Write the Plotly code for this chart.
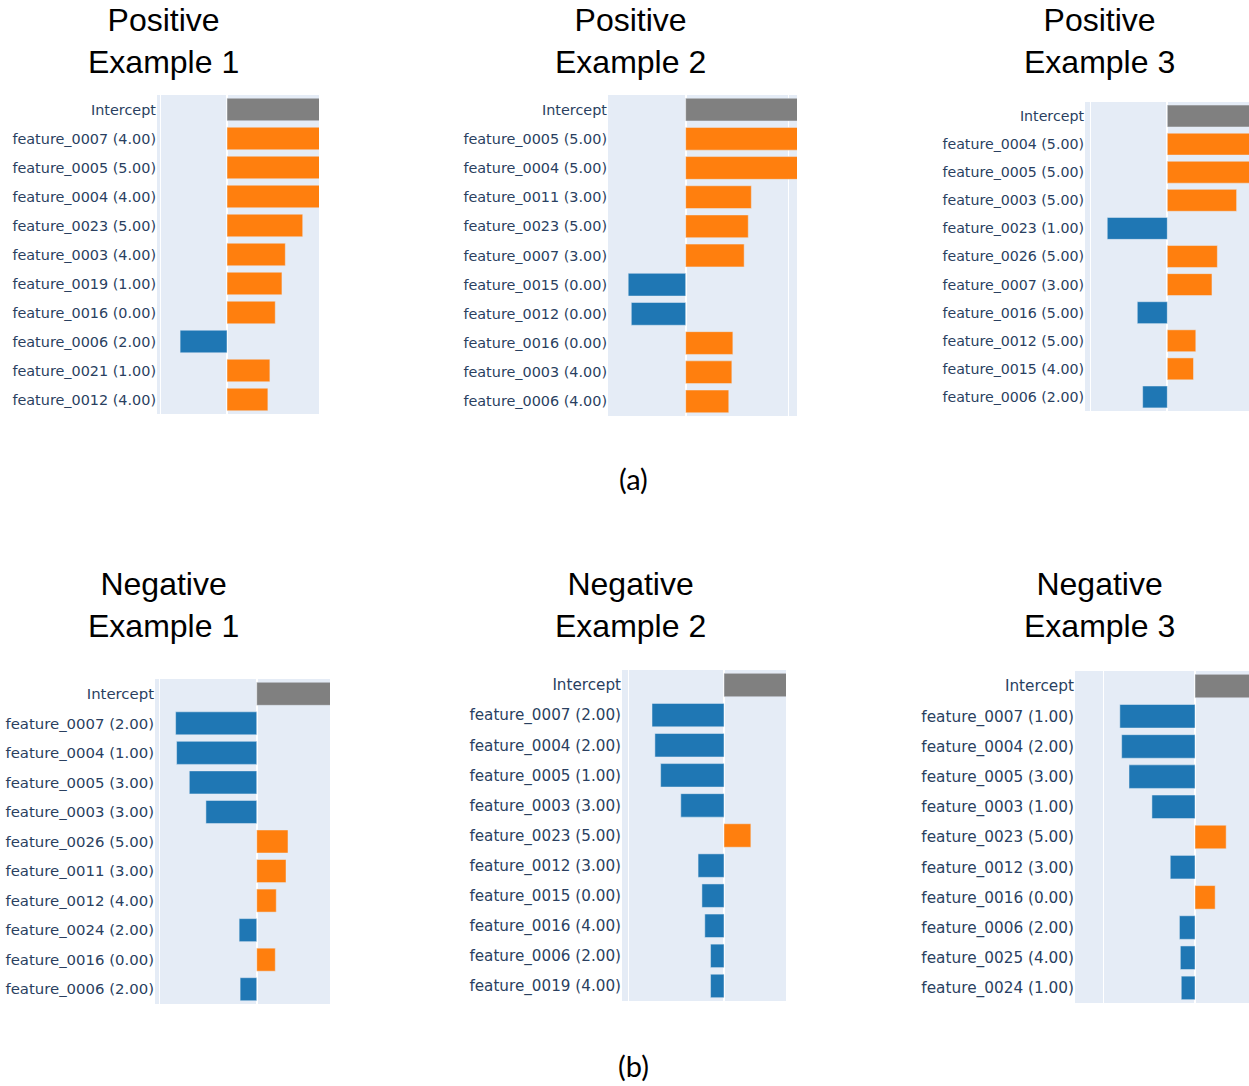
import plotly.graph_objects as go

W, H = 1249, 1086

# ---------------- data ----------------
p1_labels = ["Intercept", "feature_0007 (4.00)", "feature_0005 (5.00)", "feature_0004 (4.00)",
             "feature_0023 (5.00)", "feature_0003 (4.00)", "feature_0019 (1.00)", "feature_0016 (0.00)",
             "feature_0006 (2.00)", "feature_0021 (1.00)", "feature_0012 (4.00)"]
p1_values = [1.60, 1.55, 1.50, 1.45, 1.13, 0.87, 0.82, 0.72, -0.70, 0.64, 0.61]

p2_labels = ["Intercept", "feature_0005 (5.00)", "feature_0004 (5.00)", "feature_0011 (3.00)",
             "feature_0023 (5.00)", "feature_0007 (3.00)", "feature_0015 (0.00)", "feature_0012 (0.00)",
             "feature_0016 (0.00)", "feature_0003 (4.00)", "feature_0006 (4.00)"]
p2_values = [1.30, 1.25, 1.20, 0.64, 0.61, 0.57, -0.56, -0.53, 0.46, 0.45, 0.42]

p3_labels = ["Intercept", "feature_0004 (5.00)", "feature_0005 (5.00)", "feature_0003 (5.00)",
             "feature_0023 (1.00)", "feature_0026 (5.00)", "feature_0007 (3.00)", "feature_0016 (5.00)",
             "feature_0012 (5.00)", "feature_0015 (4.00)", "feature_0006 (2.00)"]
p3_values = [1.30, 1.20, 1.15, 0.90, -0.78, 0.65, 0.58, -0.39, 0.37, 0.34, -0.32]

n1_labels = ["Intercept", "feature_0007 (2.00)", "feature_0004 (1.00)", "feature_0005 (3.00)",
             "feature_0003 (3.00)", "feature_0026 (5.00)", "feature_0011 (3.00)", "feature_0012 (4.00)",
             "feature_0024 (2.00)", "feature_0016 (0.00)", "feature_0006 (2.00)"]
n1_values = [0.90, -0.83, -0.82, -0.69, -0.52, 0.32, 0.30, 0.20, -0.18, 0.19, -0.17]

n2_labels = ["Intercept", "feature_0007 (2.00)", "feature_0004 (2.00)", "feature_0005 (1.00)",
             "feature_0003 (3.00)", "feature_0023 (5.00)", "feature_0012 (3.00)", "feature_0015 (0.00)",
             "feature_0016 (4.00)", "feature_0006 (2.00)", "feature_0019 (4.00)"]
n2_values = [0.66, -0.75, -0.72, -0.66, -0.45, 0.28, -0.27, -0.23, -0.20, -0.14, -0.14]

n3_labels = ["Intercept", "feature_0007 (1.00)", "feature_0004 (2.00)", "feature_0005 (3.00)",
             "feature_0003 (1.00)", "feature_0023 (5.00)", "feature_0012 (3.00)", "feature_0016 (0.00)",
             "feature_0006 (2.00)", "feature_0025 (4.00)", "feature_0024 (1.00)"]
n3_values = [0.80, -0.82, -0.80, -0.72, -0.47, 0.34, -0.27, 0.22, -0.17, -0.16, -0.15]

titles = ["Positive<br>Example 1", "Positive<br>Example 2", "Positive<br>Example 3",
          "Negative<br>Example 1", "Negative<br>Example 2", "Negative<br>Example 3"]
group_labels = ["(a)", "(b)"]

# ---------------- layout of panels (pixels) ----------------
panels = [
    dict(labels=p1_labels, values=p1_values, px=(157, 319), py=(95, 414), xr=(-1.045, 1.373), fs=14.4, grid=[-1], tx=163, ty=41),
    dict(labels=p2_labels, values=p2_values, px=(608, 797), py=(95, 416), xr=(-0.757, 1.085), fs=14.4, grid=[1], tx=630, ty=41),
    dict(labels=p3_labels, values=p3_values, px=(1085, 1249), py=(102, 411), xr=(-1.069, 1.061), fs=14.2, grid=[-1], tx=1099, ty=41),
    dict(labels=n1_labels, values=n1_values, px=(155, 330), py=(679, 1004), xr=(-1.041, 0.750), fs=14.9, grid=[-1], tx=163, ty=605),
    dict(labels=n2_labels, values=n2_values, px=(622, 786), py=(670, 1001), xr=(-1.0625, 0.646), fs=15.2, grid=[-1], tx=630, ty=605),
    dict(labels=n3_labels, values=n3_values, px=(1075, 1249), py=(671, 1003), xr=(-1.309, 0.589), fs=15.3, grid=[-1], tx=1099, ty=605),
]

ORANGE, BLUE, GRAY = "#ff7f0e", "#1f77b4", "#808080"

fig = go.Figure()
layout = dict(width=W, height=H, margin=dict(l=0, r=0, t=0, b=0),
              paper_bgcolor="white", plot_bgcolor="#E5ECF6", showlegend=False,
              annotations=[])

for i, p in enumerate(panels):
    k = "" if i == 0 else str(i + 1)
    colors = [GRAY if lab == "Intercept" else (ORANGE if v >= 0 else BLUE)
              for lab, v in zip(p["labels"], p["values"])]
    fig.add_trace(go.Bar(
        x=p["values"], y=p["labels"], orientation="h",
        marker=dict(color=colors, line=dict(color="#E5ECF6", width=0.5)),
        xaxis="x" + k, yaxis="y" + k, width=0.78,
    ))
    layout["xaxis" + k] = dict(
        domain=[p["px"][0] / W, p["px"][1] / W], anchor="y" + k,
        range=list(p["xr"]), showticklabels=False, tickvals=p["grid"],
        showgrid=True, gridcolor="white", gridwidth=1,
        zeroline=True, zerolinecolor="white", zerolinewidth=2, ticks="",
    )
    layout["yaxis" + k] = dict(
        domain=[1 - p["py"][1] / H, 1 - p["py"][0] / H], anchor="x" + k,
        type="category", categoryorder="array", categoryarray=p["labels"],
        autorange="reversed", showgrid=False, zeroline=False, ticks="",
        tickfont=dict(family="DejaVu Sans", size=p["fs"], color="#2a3f5f"),
    )
    layout["annotations"].append(dict(
        text=titles[i], x=p["tx"] / W, y=1 - p["ty"] / H, xref="paper", yref="paper",
        xanchor="center", yanchor="middle", showarrow=False, align="center",
        font=dict(family="Liberation Sans, Arial", size=32, color="black"),
    ))

for lab, ypx in zip(group_labels, [479, 1065]):
    layout["annotations"].append(dict(
        text=lab, x=633 / W, y=1 - ypx / H, xref="paper", yref="paper",
        xanchor="center", yanchor="middle", showarrow=False,
        font=dict(family="Lato, Open Sans", size=29, color="black"),
    ))

fig.update_layout(**layout)
fig.write_html("out.html", config={"displayModeBar": False},
               post_script="document.body.style.margin='0px';document.body.style.overflow='hidden';")
